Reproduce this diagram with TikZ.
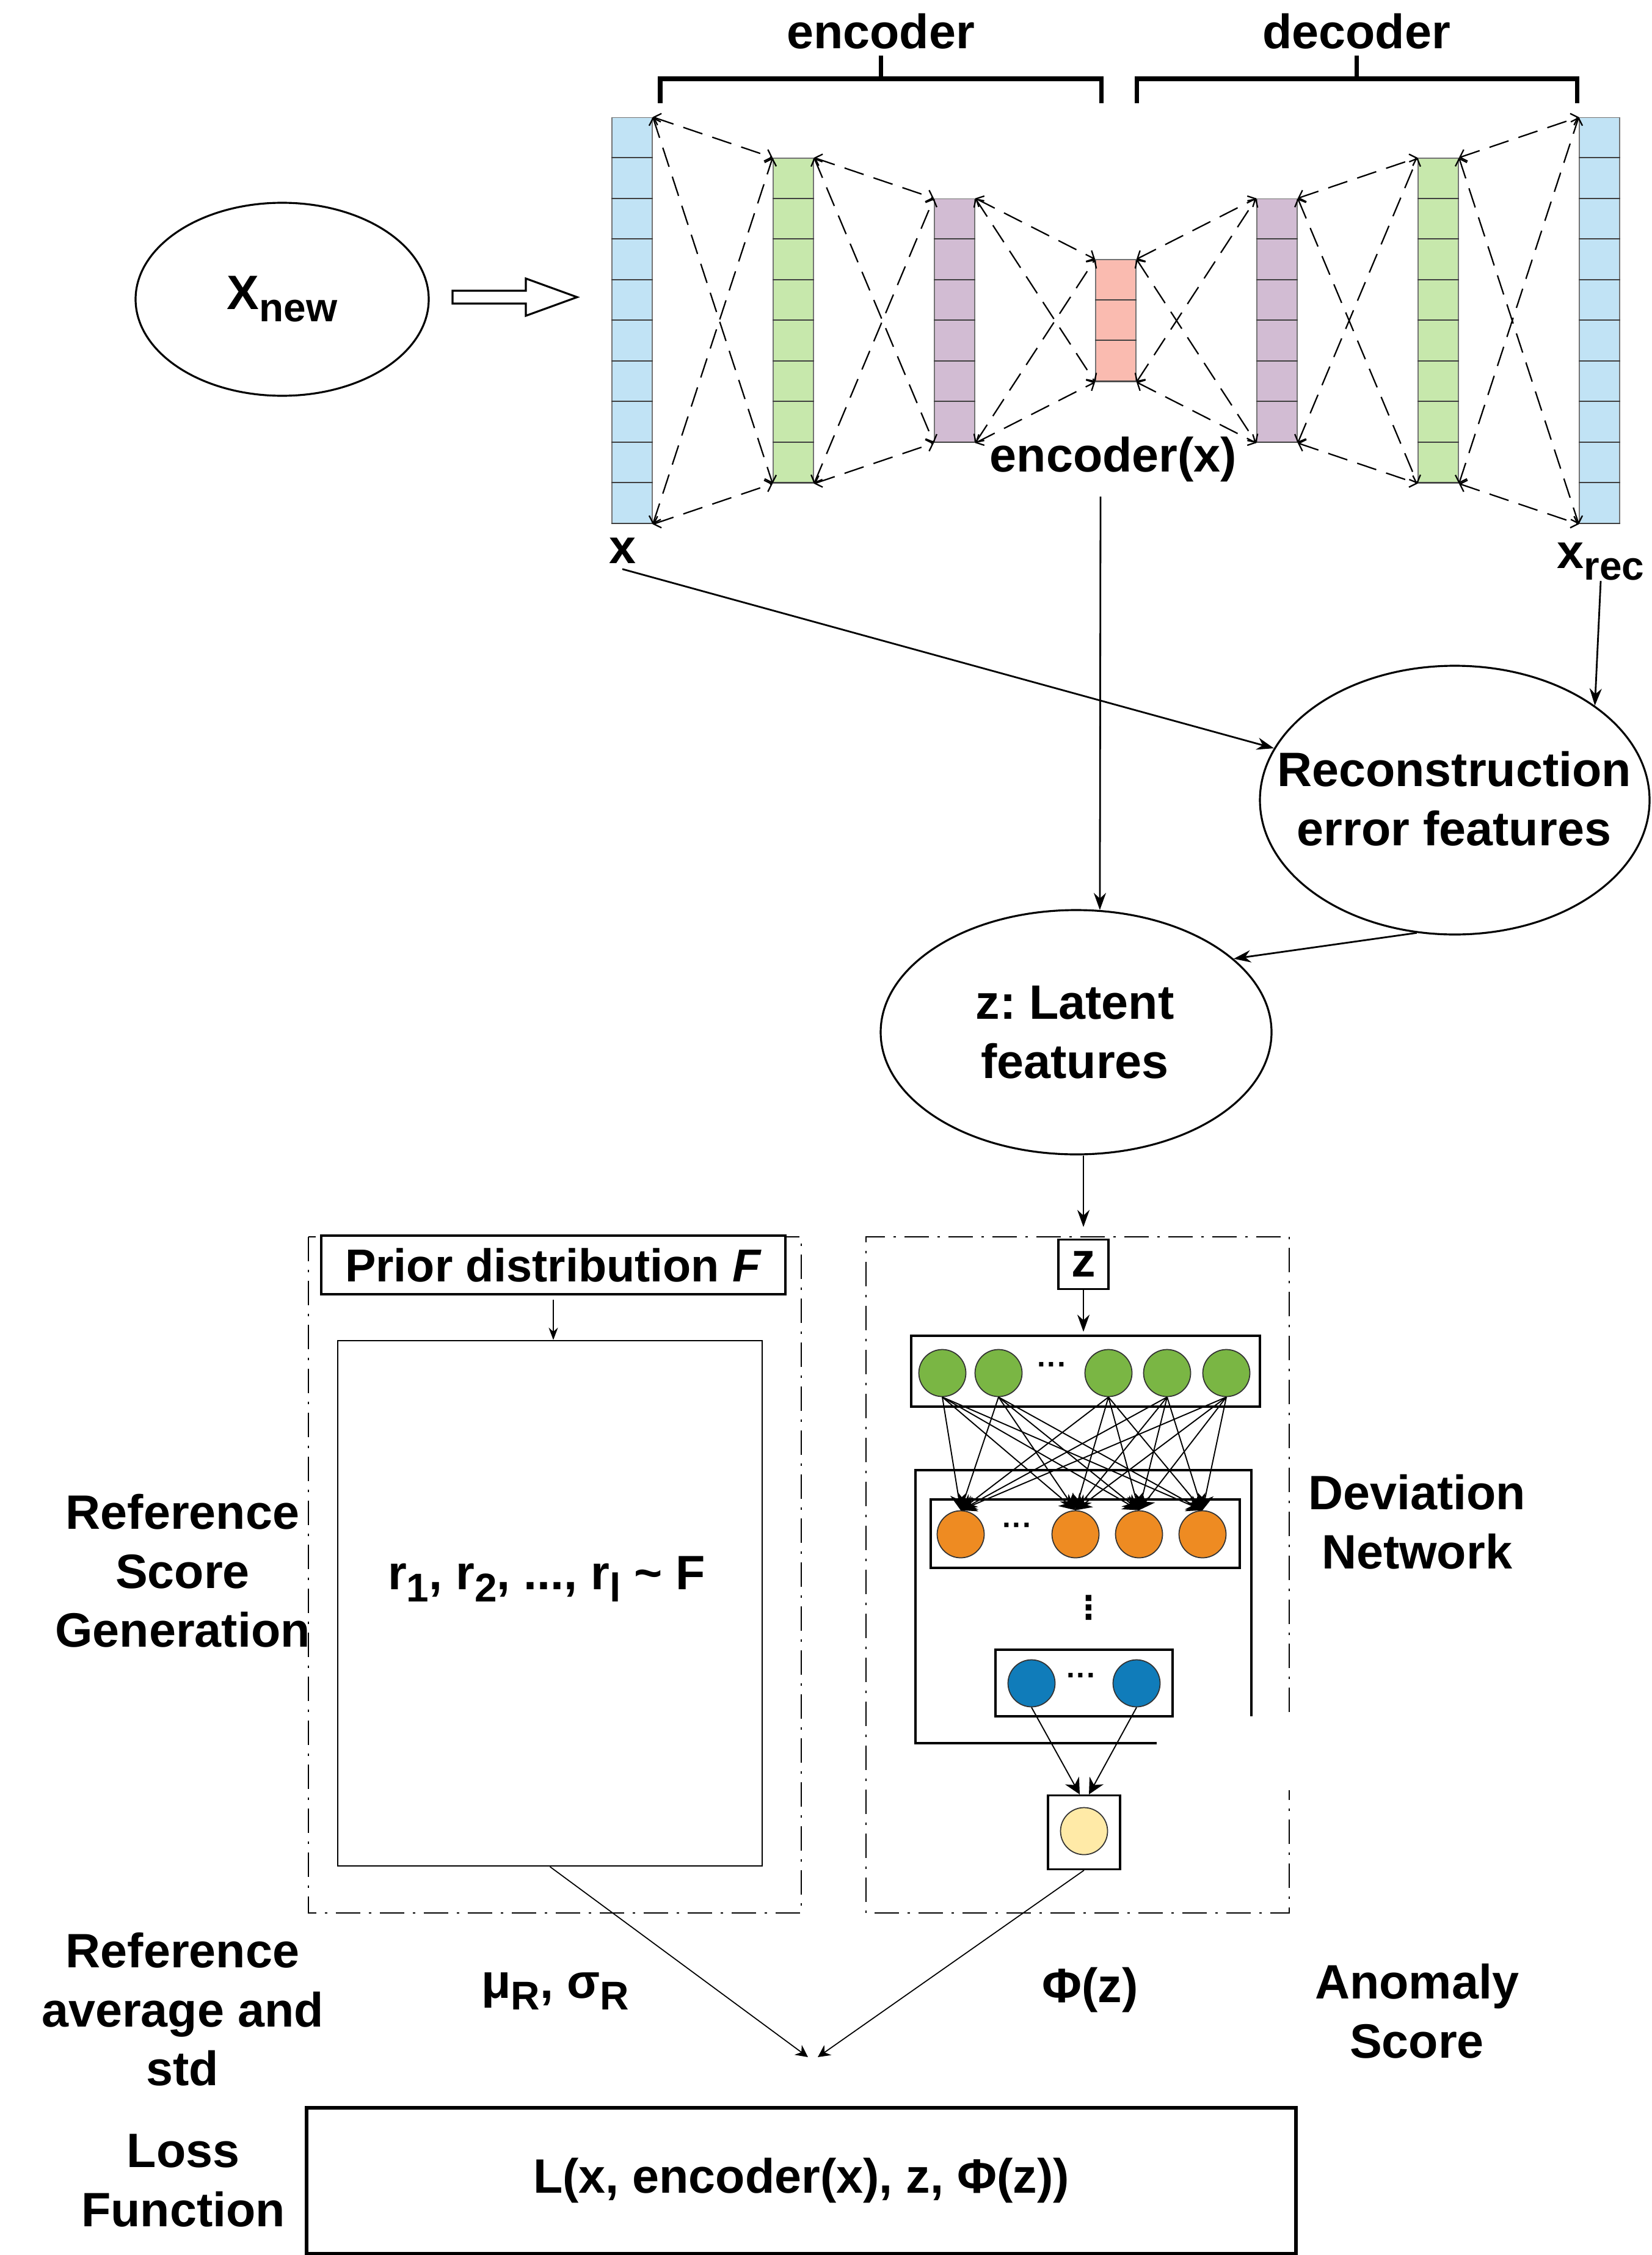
\documentclass[tikz,border=0pt]{standalone}
\usepackage{fontspec}
\setmainfont{Liberation Sans}
\newfontfamily\dejavu{DejaVu Sans}
\usepackage{tikz}
\usetikzlibrary{arrows.meta,positioning,shapes.geometric,calc}
\frenchspacing

\definecolor{encblue}{RGB}{193,227,245}
\definecolor{encgreen}{RGB}{199,232,172}
\definecolor{encpurple}{RGB}{210,188,211}
\definecolor{encred}{RGB}{250,187,176}
\definecolor{nngreen}{RGB}{122,182,68}
\definecolor{nnorange}{RGB}{238,139,34}
\definecolor{nnblue}{RGB}{16,124,186}
\definecolor{nnyellow}{RGB}{255,234,167}

\newcommand{\bigfont}{\fontsize{22.5}{27.5}\selectfont\bfseries}
\newcommand{\lowsub}[1]{\raisebox{-0.25em}{\fontsize{18.7}{18.7}\selectfont #1}}

\begin{document}
\begin{tikzpicture}[
  x=1cm,y=1cm,
  lbl/.style={font=\bigfont, align=center, inner sep=0pt},
  col/.style={draw=black!55, line width=0.5pt, minimum width=0.66cm, inner sep=0pt},
  cellsep/.style={draw=black!75, line width=0.6pt},
  link/.style={dash pattern=on 0.33cm off 0.17cm, line width=0.65pt, {Straight Barb[length=0.1cm,width=0.2cm]}-{Straight Barb[length=0.1cm,width=0.2cm]}},
  bracket/.style={line width=2pt},
  blob/.style={ellipse, draw, line width=0.9pt},
  arr/.style={-{Stealth[length=0.28cm,width=0.2cm]}, line width=0.8pt},
  dashbox/.style={line width=0.8pt, dash pattern=on 0.4cm off 0.14cm on 0.04cm off 0.14cm},
  layerbox/.style={draw, line width=0.9pt, inner sep=0pt},
  neuron/.style={circle, draw=black!80, line width=0.5pt, minimum size=0.77cm, inner sep=0pt},
  netarr/.style={-{Stealth[length=0.2cm,width=0.2cm]}, line width=0.5pt},
  fanarr/.style={-{Stealth[length=0.26cm,width=0.26cm]}, line width=0.55pt},
  dots/.style={font=\fontsize{14}{14}\selectfont\bfseries, inner sep=0pt}
]
\useasboundingbox (0,0) rectangle (27.04,-36.92);

% autoencoder
\foreach \i/\n/\c in {1/10/encblue,2/8/encgreen,3/6/encpurple,4/3/encred,5/6/encpurple,6/8/encgreen,7/10/encblue}{
  \node[col, fill=\c, minimum height=\n*0.665cm] (c\i) at ({10.35+2.64*(\i-1)},-5.25) {};
  \foreach \k in {1,...,\n}
    \draw[cellsep] ([yshift=-\k*0.665cm]c\i.north west) -- ([yshift=-\k*0.665cm]c\i.north east);
}
\foreach \j [remember=\j as \i (initially 1)] in {2,...,7}{
  \draw[link] (c\i.north east) -- (c\j.north west);
  \draw[link] (c\i.north east) -- (c\j.south west);
  \draw[link] (c\i.south east) -- (c\j.north west);
  \draw[link] (c\i.south east) -- (c\j.south west);
}

\draw[bracket] (10.81,-1.69) |- (18.03,-1.29) -- (18.03,-1.69);
\draw[bracket] (14.42,-1.29) -- (14.42,-0.91);
\draw[bracket] (18.61,-1.69) |- (25.82,-1.29) -- (25.82,-1.69);
\draw[bracket] (22.21,-1.29) -- (22.21,-0.91);
\node[lbl, anchor=base] (enclbl) at (14.42,-0.80) {encoder};
\node[lbl, anchor=base] (declbl) at (22.21,-0.80) {decoder};
\node[lbl, anchor=base] (encx) at (18.23,-7.72) {encoder(x)};
\node[lbl, anchor=base] (xin) at (10.19,-9.22) {x};
\node[lbl, anchor=base] (xrec) at (26.21,-9.30) {x\lowsub{rec}};

% input
\node[blob, minimum width=4.80cm, minimum height=3.16cm] (xnew) at (4.62,-4.90) {};
\node[lbl] (xnewtxt) at (xnew) {X\lowsub{new}};
\draw[line width=0.9pt] (7.41,-4.76) -- (8.61,-4.76) -- (8.61,-4.56) -- (9.45,-4.865)
  -- (8.61,-5.17) -- (8.61,-4.97) -- (7.41,-4.97) -- cycle;

% features
\node[blob, minimum width=6.38cm, minimum height=4.40cm] (recon) at (23.82,-13.10) {};
\node[lbl] (recontxt) at (23.81,-13.08) {Reconstruction\\error features};
\node[blob, minimum width=6.40cm, minimum height=4.00cm] (latent) at (17.62,-16.90) {};
\node[lbl] (latenttxt) at (17.60,-16.90) {z: Latent\\features};

\draw[arr] ([yshift=-0.09cm]xin.south) -- (recon.164);
\draw[arr] (xrec.south) -- (recon.34);
\draw[arr] ([xshift=-0.21cm,yshift=-0.24cm]encx.south) -- (latent.79);
\draw[arr] (recon.254) -- (latent.25);

% reference score generation
\draw[dashbox] (5.05,-20.25) rectangle (13.12,-31.32);
\node[draw, fill=white, line width=0.9pt, font=\fontsize{21.5}{26}\selectfont\bfseries, minimum width=7.60cm, minimum height=0.96cm, inner sep=0pt] (prior) at (9.06,-20.71) {Prior distribution \textit{F}};
\node[draw, line width=0.7pt, minimum width=6.95cm, minimum height=8.60cm] (refbox) at (9.005,-26.25) {};
\node[lbl] (rtext) at (8.95,-25.85) {r\lowsub{1}, r\lowsub{2}, ..., r\lowsub{l} \textasciitilde{} F};
\draw[-{Stealth[length=0.2cm,width=0.15cm]}, line width=0.7pt] ([yshift=-0.07cm]prior.south) -- (prior.south |- refbox.north);

% deviation network
\draw[dashbox] (21.11,-28.03) -- (21.11,-20.25) -| (14.18,-31.32) -| (21.11,-29.31);
\node[draw, fill=white, line width=0.9pt, font=\bigfont, minimum width=0.82cm, minimum height=0.81cm, inner sep=0pt] (zbox) at (17.74,-20.70) {z};
\draw[arr] (latent.south -| zbox.north) -- ([yshift=0.19cm]zbox.north);

\node[layerbox, minimum width=5.71cm, minimum height=1.16cm] (glayer) at (17.775,-22.45) {};
\draw[arr] (zbox.south) -- ([yshift=0.05cm]zbox.south |- glayer.north);
\foreach \x [count=\n] in {15.43,16.35,18.15,19.11,20.08}
  \node[neuron, fill=nngreen] (g\n) at (\x,-22.48) {};
\node[dots] (gdots) at (17.23,-22.40) {···};

\draw[layerbox] (18.94,-28.54) -| (14.99,-24.07) -| (20.49,-28.10);
\node[layerbox, minimum width=5.06cm, minimum height=1.12cm] (olayer) at (17.77,-25.11) {};
\foreach \x [count=\n] in {15.73,17.61,18.65,19.69}
  \node[neuron, fill=nnorange] (o\n) at (\x,-25.12) {};
\node[dots] (odots) at (16.66,-25.03) {···};
\node[font=\fontsize{15}{15}\selectfont\dejavu\bfseries, inner sep=0pt] (vdots) at (17.83,-26.32) {⋮};

\node[layerbox, minimum width=2.90cm, minimum height=1.09cm] (blayer) at (17.75,-27.555) {};
\node[neuron, fill=nnblue] (b1) at (16.89,-27.56) {};
\node[neuron, fill=nnblue] (b2) at (18.61,-27.56) {};
\node[dots] (bdots) at (17.71,-27.49) {···};

\node[layerbox, minimum width=1.18cm, minimum height=1.21cm] (outbox) at (17.75,-30.00) {};
\node[neuron, fill=nnyellow] (yout) at (17.75,-29.98) {};

\foreach \i in {1,...,5}
  \foreach \j in {1,...,4}
    \draw[fanarr] (g\i.south) -- (o\j.north);
\draw[fanarr] (b1.south) -- ([xshift=-0.07cm]outbox.north);
\draw[fanarr] (b2.south) -- ([xshift=0.08cm]outbox.north);

% scores and loss
\coordinate (merge) at (13.31,-33.68);
\draw[netarr] (refbox.south) -- ([xshift=-0.08cm]merge);
\draw[netarr] (outbox.south) -- ([xshift=0.08cm]merge);

\node[lbl] (refgen) at (2.99,-25.72) {Reference\\Score\\Generation};
\node[lbl] (devnet) at (23.20,-24.92) {Deviation\\Network};
\node[lbl] (refavg) at (2.99,-32.90) {Reference\\average and\\std};
\node[lbl] (musig) at (9.09,-32.60) {μ\lowsub{R}, σ\lowsub{R}};
\node[lbl] (phiz) at (17.85,-32.58) {Φ(z)};
\node[lbl] (anom) at (23.20,-32.93) {Anomaly\\Score};
\node[lbl] (losslbl) at (3.00,-35.70) {Loss\\Function};
\node[draw, line width=1.6pt, minimum width=16.20cm, minimum height=2.39cm, font=\bigfont] (loss) at (13.12,-35.705) {L(x, encoder(x), z, Φ(z))};
\end{tikzpicture}
\end{document}
